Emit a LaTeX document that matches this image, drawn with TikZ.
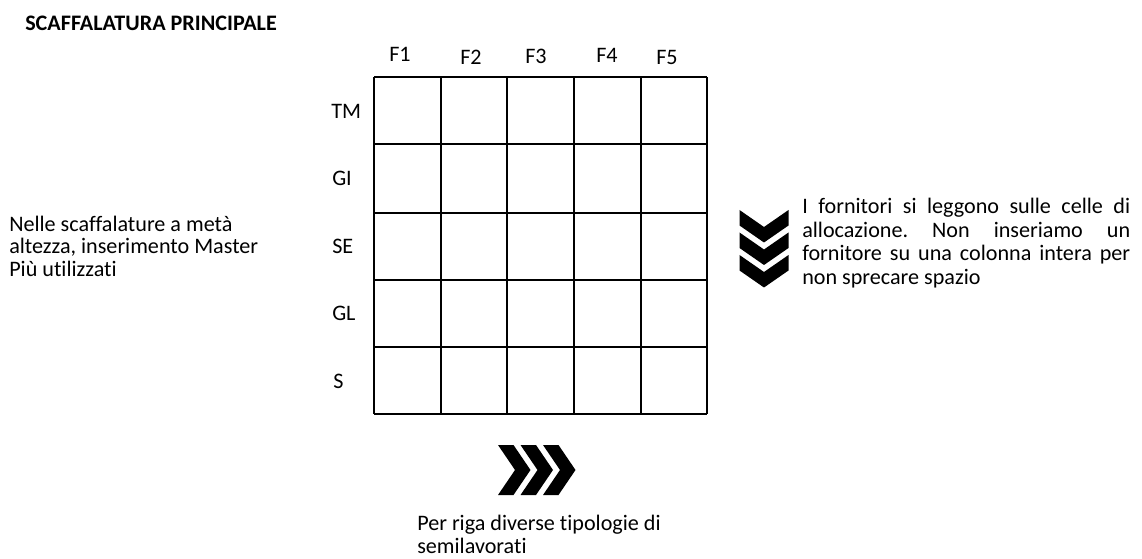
\documentclass[tikz,border=0pt]{standalone}
\usepackage{fontspec}
\setmainfont{Carlito}[Ligatures=NoCommon]
\usepackage{tikz}

\begin{document}
\frenchspacing
\begin{tikzpicture}[x=0.75pt,y=0.75pt,yscale=-1,
  every node/.style={font=\fontsize{16.6pt}{17pt}\selectfont},
  gridline/.style={line width=1.5pt}]
%set diagram window: 1142 x 559
\useasboundingbox (0,0) rectangle (1142,559);

%Straight Lines: rows of the shelf grid
\draw [gridline] (374,77.3) -- (707,77.3) ;
\draw [gridline] (374,144.3) -- (707,144.3) ;
\draw [gridline] (374,212.7) -- (707,212.7) ;
\draw [gridline] (374,280) -- (707,280) ;
\draw [gridline] (374,347.3) -- (707,347.3) ;
\draw [gridline] (374,414) -- (707,414) ;
%Straight Lines: columns of the shelf grid
\draw [gridline] (374,77.3) -- (374,414) ;
\draw [gridline] (440.7,77.3) -- (440.7,414) ;
\draw [gridline] (507.3,77.3) -- (507.3,414) ;
\draw [gridline] (574,77.3) -- (574,414) ;
\draw [gridline] (640.7,77.3) -- (640.7,414) ;
\draw [gridline] (707,77.3) -- (707,414) ;

%Shape: Chevron (down)
\fill (739.5,210) -- (764,227) -- (788.5,210) -- (788.5,225.5) -- (764,242.5) -- (739.5,225.5) -- cycle ;
%Shape: Chevron (down)
\fill (739.5,232.5) -- (764,249.5) -- (788.5,232.5) -- (788.5,248) -- (764,265) -- (739.5,248) -- cycle ;
%Shape: Chevron (down)
\fill (739.5,255) -- (764,272) -- (788.5,255) -- (788.5,270.5) -- (764,287.5) -- (739.5,270.5) -- cycle ;

%Shape: Chevron (right)
\fill (498,445) -- (515,470) -- (498,495) -- (513.5,495) -- (530.5,470) -- (513.5,445) -- cycle ;
%Shape: Chevron (right)
\fill (520.5,445) -- (537.5,470) -- (520.5,495) -- (536,495) -- (553,470) -- (536,445) -- cycle ;
%Shape: Chevron (right)
\fill (543,445) -- (560,470) -- (543,495) -- (558.5,495) -- (575.5,470) -- (558.5,445) -- cycle ;

% Text Node
\draw (25,31) node [anchor=base west][inner sep=0pt] (title) {\bfseries SCAFFALATURA PRINCIPALE};

% Text Node
\draw (389,62) node [anchor=base west][inner sep=0pt] (f1) {F1};
% Text Node
\draw (460,64.7) node [anchor=base west][inner sep=0pt] (f2) {F2};
% Text Node
\draw (525,64) node [anchor=base west][inner sep=0pt] (f3) {F3};
% Text Node
\draw (596,63) node [anchor=base west][inner sep=0pt] (f4) {F4};
% Text Node
\draw (656,65) node [anchor=base west][inner sep=0pt] (f5) {F5};

% Text Node
\draw (331,118.5) node [anchor=base west][inner sep=0pt] (tm) {TM};
% Text Node
\draw (332,185.5) node [anchor=base west][inner sep=0pt] (gi) {GI};
% Text Node
\draw (332,253.5) node [anchor=base west][inner sep=0pt] (se) {SE};
% Text Node
\draw (332,321) node [anchor=base west][inner sep=0pt] (gl) {GL};
% Text Node
\draw (333,388.5) node [anchor=base west][inner sep=0pt] (s) {S};

% Text Node (base = last line)
\draw (9,276.5) node [anchor=base west][inner sep=0pt][align=left] (half) {Nelle scaffalature a metà\\ altezza, inserimento Master\\ Più utilizzati};

% Text Node (base = first line)
\draw (802,214) node [anchor=base west][inner sep=0pt][text width=246pt,align=justify,font=\fontsize{16.6pt}{17.6pt}\selectfont] (supplier) {I fornitori si leggono sulle celle di\linebreak allocazione. Non inseriamo un\linebreak fornitore su una colonna intera per\linebreak non sprecare spazio};

% Text Node (base = last line)
\draw (417,553.5) node [anchor=base west][inner sep=0pt][align=left] (rows) {Per riga diverse tipologie di\\ semilavorati};

\end{tikzpicture}
\end{document}
